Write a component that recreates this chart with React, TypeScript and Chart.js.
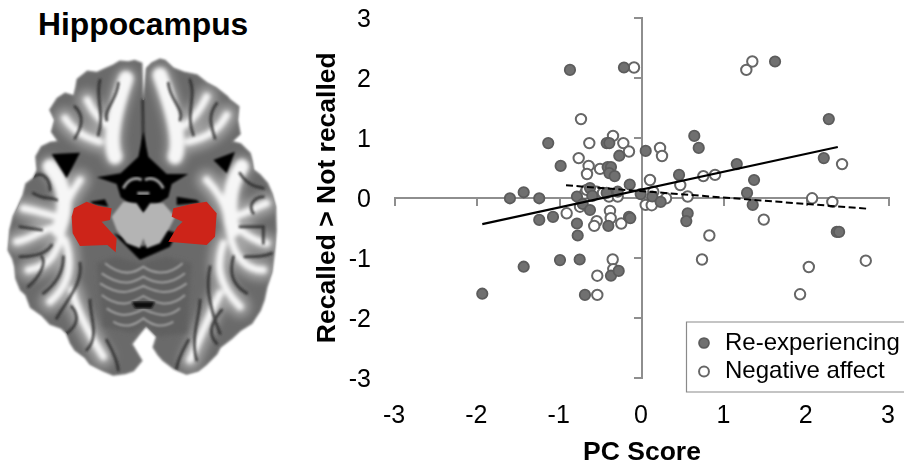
import React, { useEffect, useRef } from "react";
import { Chart, registerables } from "chart.js";

Chart.register(...registerables);

const reX = [-0.875,-0.219,-1.139,-0.988,-1.604,-1.437,-1.248,-0.429,-0.397,-0.276,0.045,-0.417,-0.377,-0.397,-0.332,-0.149,-0.632,-0.79,-0.604,-0.429,-0.295,-0.016,-0.72,-0.632,-1.248,-1.081,-0.79,-0.781,-0.409,-0.158,-0.142,-0.996,-0.757,-1.437,-0.377,-0.283,-1.94,-0.693,1.616,2.269,0.635,0.689,1.151,2.208,0.45,1.361,1.276,1.345,0.125,0.227,0.555,0.538,2.366,2.394];
const reY = [2.13,2.17,0.91,0.53,-0.01,0.09,-0.01,0.91,0.91,0.7,0.78,0.51,0.51,0.41,0.36,0.22,0.16,0.02,0.03,0.08,0.1,0.06,-0.105,-0.205,-0.37,-0.32,-0.43,-0.63,-0.47,-0.32,-0.34,-1.04,-1.03,-1.15,-1.3,-1.22,-1.6,-1.62,2.27,1.31,1.03,0.83,0.56,0.66,0.38,0.295,0.08,-0.12,0.02,-0.07,-0.26,-0.39,-0.57,-0.57];
const naX = [-0.097,-0.741,-0.64,-0.352,-0.227,-0.158,-0.769,-0.648,-0.668,-0.51,0.097,-0.693,-0.672,-0.55,-0.401,-0.295,-0.474,-0.753,-0.915,-0.389,-0.38,-0.55,-0.58,-0.252,-0.356,-0.349,-0.543,-0.543,1.34,1.267,0.219,0.243,0.745,0.887,0.465,0.555,0.137,0.292,0.045,0.118,2.066,2.312,2.43,1.479,0.818,0.729,2.026,2.718,1.92];
const naY = [2.17,1.31,0.91,1.03,0.91,0.77,0.66,0.53,0.395,0.48,0.295,0.07,0.13,0.1,0.02,0.02,0.08,-0.15,-0.26,-0.22,-0.34,-0.39,-0.47,-0.43,-1.03,-1.19,-1.3,-1.62,2.27,2.13,0.83,0.695,0.36,0.38,0.21,0.02,0.1,-0.01,-0.12,-0.125,-0.01,-0.07,0.56,-0.365,-0.63,-1.03,-1.155,-1.05,-1.61];
const fitReX = [-1.94, 2.378];
const fitReY = [-0.44, 0.845];
const fitNaX = [-0.923, 2.73];
const fitNaY = [0.207, -0.183];
const seriesNames = ["Re-experiencing", "Negative affect"];
const title = "Hippocampus";
const xTitle = "PC Score";
const yTitle = "Recalled > Not recalled";

const toPoints = (xs: number[], ys: number[]) => xs.map((x, i) => ({ x, y: ys[i] }));

const FONT = "'Liberation Sans', Arial, sans-serif";
const AXIS = "#8e8e8e";

const zeroPadding = (s: any) => {
  s.paddingTop = 0;
  s.paddingBottom = 0;
  s.paddingLeft = 0;
  s.paddingRight = 0;
};

const placeLegend = {
  id: "placeLegend",
  afterLayout(chart: any) {
    const l = chart.legend;
    if (!l) return;
    l.left = 690.5;
    l.right = 904;
    l.top = 326.5;
    l.bottom = 440;
  },
  beforeDraw(chart: any) {
    const c = chart.ctx;
    c.save();
    c.strokeStyle = "#8a8a8a";
    c.lineWidth = 1.2;
    c.fillStyle = "#fff";
    c.beginPath();
    c.rect(686.5, 322, 230, 70);
    c.fill();
    c.stroke();
    c.restore();
  },
};

function Brain() {
  const outline = "425,190 405,182 385,186 360,184 340,196 312,208 290,218 262,214 232,238 228,262 222,288 195,280 172,295 150,330 165,360 155,395 176,425 150,428 125,440 108,470 112,510 100,535 78,552 70,585 55,620 40,650 30,690 28,720 25,750 38,775 45,800 48,835 62,870 78,885 92,922 125,945 150,972 185,985 200,1000 212,1030 225,1050 255,1072 270,1092 310,1112 340,1125 375,1120 400,1112 425,1082 395,1032 420,1000 438,978 470,1010 460,1042 475,1065 490,1082 525,1108 560,1122 595,1112 620,1092 650,1062 660,1042 695,1015 720,992 755,970 780,932 792,900 800,862 815,815 822,760 828,690 826,620 815,580 802,550 780,525 760,510 755,480 750,460 722,432 695,425 720,402 712,360 716,320 690,300 682,290 650,265 622,250 590,225 555,218 520,205 495,182 480,178 455,190 440,205 432,300 428,300";
  const white = [
    "M345,470 C325,420 345,330 378,235",
    "M340,390 C310,370 280,340 262,300",
    "M300,425 C265,415 225,400 195,355",
    "M525,470 C545,420 515,320 480,225",
    "M530,390 C570,370 595,340 620,290",
    "M565,425 C610,415 650,400 680,345",
    "M150,500 C195,550 205,620 175,690",
    "M170,650 C130,640 100,630 70,625",
    "M170,680 C120,690 90,720 50,725",
    "M185,700 C170,770 140,800 85,810",
    "M195,720 C215,780 215,850 150,905",
    "M215,870 C230,930 260,990 310,1070",
    "M240,540 C220,570 200,600 190,640",
    "M725,500 C690,550 680,620 700,690",
    "M700,650 C740,640 770,620 800,610",
    "M700,680 C720,680 740,720 800,730",
    "M690,700 C700,770 740,810 790,810",
    "M670,730 C650,790 650,850 720,920",
    "M660,880 C630,940 610,990 570,1080",
    "M620,540 C650,570 670,600 680,640",
  ];
  const dark = [
    "M300,240 C285,290 315,340 295,405", "M225,320 C255,350 245,380 225,415", "M355,250 C350,300 310,330 320,360",
    "M570,240 C590,290 555,340 580,405", "M650,310 C620,350 635,380 645,415", "M505,250 C510,300 555,330 540,360",
    "M60,680 L125,690", "M100,580 C130,600 150,590 170,600", "M60,770 C110,770 140,760 155,735", "M125,770 C140,790 120,830 85,860",
    "M130,880 C170,850 190,810 190,770", "M170,955 C200,900 250,850 240,790", "M260,1050 C300,1010 270,950 270,900",
    "M720,520 C740,550 760,560 790,565", "M720,680 L790,680 L790,730", "M735,770 C770,770 790,770 815,760",
    "M740,880 C690,850 690,810 700,770", "M660,1000 C620,900 620,850 630,800", "M590,1080 C570,1010 600,950 600,900",
    "M428,300 L430,430", "M100,530 C130,510 150,540 150,570", "M760,640 C740,610 770,590 790,590",
    "M200,1000 C230,980 240,950 215,920", "M650,1030 C620,1000 640,960 665,930", "M355,1110 C350,1070 330,1040 320,1020", "M530,1105 C535,1070 555,1040 565,1020",
  ];
  const arcs = [
    "M315,790 C370,835 410,815 430,800 C450,815 500,835 548,790",
    "M305,820 C370,865 405,845 430,830 C455,845 500,865 555,820",
    "M300,850 C370,895 400,870 430,858 C460,870 500,895 560,850",
    "M305,885 C365,930 400,905 430,888 C460,905 505,930 555,885",
    "M320,925 C370,960 400,940 430,928 C460,940 500,960 540,925",
    "M340,965 C380,990 410,970 430,955 C450,970 480,990 520,965",
  ];
  return (
    <svg width={290} height={380} viewBox="0 0 870 1140" style={{ position: "absolute", left: 0, top: 0 }}>
      <defs>
        <filter id="b1"><feGaussianBlur stdDeviation="2.5" /></filter>
        <filter id="b2"><feGaussianBlur stdDeviation="7" /></filter>
        <filter id="b3"><feGaussianBlur stdDeviation="14" /></filter>
        <clipPath id="clip"><polygon points={outline} /></clipPath>
      </defs>
      <polygon points={outline} fill="#6a6a6a" stroke="#777" strokeWidth={5} strokeLinejoin="round" filter="url(#b1)" />
      <g clipPath="url(#clip)">
        <g fill="none" stroke="#a6a6a6" strokeLinecap="round" filter="url(#b3)">
          {white.map((d, i) => <path key={i} d={d} strokeWidth={62} />)}
        </g>
        <g fill="none" stroke="#f6f6f6" strokeLinecap="round" filter="url(#b2)">
          {white.map((d, i) => <path key={i} d={d} strokeWidth={i === 0 || i === 3 || i === 6 || i === 13 ? 44 : 22} />)}
        </g>
        <g fill="none" stroke="#262626" strokeLinecap="round" filter="url(#b1)" opacity={0.75}>
          {dark.map((d, i) => <path key={i} d={d} strokeWidth={9} />)}
        </g>
        <g fill="#060606" filter="url(#b1)">
          <polygon points="155,462 240,458 200,535" />
          <polygon points="640,480 705,455 680,520" />
          <polygon points="430,395 445,470 500,522 565,522 515,552 505,592 430,640 362,592 350,552 290,532 362,520 415,470" />
          <polygon points="340,700 420,780 510,740 530,700 500,690 430,740 370,710" />
          <polygon points="270,605 315,598 325,620 280,612" />
          <polygon points="530,590 590,600 600,608 530,615" />
        </g>
        <g fill="none" stroke="#a0a0a0" strokeWidth={9} filter="url(#b1)">
          <path d="M370,565 C385,535 410,530 425,540" />
          <path d="M490,565 C475,535 450,530 435,540" />
          <path d="M412,580 L448,580" />
        </g>
        <polygon points="290,790 345,770 420,790 500,770 575,790 560,1000 470,1010 438,975 400,1000 310,980" fill="#606060" filter="url(#b2)" />
        <g fill="none" stroke="#a0a0a0" filter="url(#b1)">
          {arcs.map((d, i) => <path key={i} d={d} strokeWidth={6} />)}
        </g>
        <polygon points="395,905 465,905 455,925 405,925" fill="#111" filter="url(#b1)" />
        <polygon points="335,650 370,605 410,610 430,640 450,610 490,610 525,650 510,680 480,730 440,745 430,715 420,745 380,730 350,690" fill="#b4b4b4" filter="url(#b1)" />
        <g fill="#cd2419">
          <polygon points="215,650 222,625 260,605 295,618 335,625 330,660 305,665 350,715 347,757 322,735 240,738 218,700" />
          <polygon points="520,625 575,612 620,605 650,640 645,710 620,735 505,725 532,680 548,665 515,650" />
        </g>
      </g>
    </svg>
  );
}

export default function App() {
  const ref = useRef<HTMLCanvasElement>(null);

  useEffect(() => {
    const tickFont = { family: FONT, size: 25 };
    const titleFont = { family: FONT, size: 26.5, weight: "bold" as const, lineHeight: 1 };
    const centerAxis = {
      type: "linear" as const,
      min: -3,
      max: 3,
      afterFit: zeroPadding,
      ticks: { display: false, stepSize: 1 },
      border: { display: true, color: AXIS, width: 2 },
      grid: { display: true, drawOnChartArea: false, drawTicks: true, tickLength: 7, color: AXIS, lineWidth: 2 },
    };
    const chart = new Chart(ref.current!, {
      type: "scatter",
      data: {
        datasets: [
          {
            label: seriesNames[0],
            data: toPoints(reX, reY),
            order: 1,
            pointRadius: 5.2,
            borderWidth: 1.8,
            backgroundColor: "#707070",
            borderColor: "#5c5c5c",
          },
          {
            label: seriesNames[1],
            data: toPoints(naX, naY),
            order: 2,
            pointRadius: 5.2,
            borderWidth: 2,
            backgroundColor: "#ffffff",
            borderColor: "#666666",
          },
          {
            type: "line",
            label: "fit re",
            data: toPoints(fitReX, fitReY),
            order: 0,
            showLine: true,
            pointRadius: 0,
            borderWidth: 2.2,
            borderColor: "#000",
          },
          {
            type: "line",
            label: "fit na",
            data: toPoints(fitNaX, fitNaY),
            order: 0,
            showLine: true,
            pointRadius: 0,
            borderWidth: 2,
            borderDash: [7, 3.5],
            borderColor: "#000",
          },
        ] as any,
      },
      options: {
        responsive: false,
        animation: false,
        layout: { autoPadding: false, padding: { left: 314, right: 15, top: 17.7, bottom: 0 } },
        plugins: {
          tooltip: { enabled: false },
          title: { display: false },
          legend: {
            position: "chartArea" as any,
            align: "start",
            labels: {
              usePointStyle: true,
              boxWidth: 18,
              boxHeight: 7,
              padding: 4.5,
              color: "#000",
              font: { family: FONT, size: 24 },
              filter: (it: any) => seriesNames.includes(it.text),
            },
          },
        },
        scales: {
          x: {
            type: "linear",
            position: "bottom",
            min: -3,
            max: 3,
            afterFit: (s: any) => { s.height = 88.3; zeroPadding(s); },
            grid: { display: false },
            border: { display: false },
            ticks: { stepSize: 1, color: "#000", font: tickFont, padding: 15, maxRotation: 0, includeBounds: true, labelOffset: -1 },
            title: { display: true, text: xTitle, color: "#000", font: titleFont, padding: { top: 0, bottom: 0 } },
          },
          y: {
            type: "linear",
            position: "left",
            min: -3,
            max: 3,
            afterFit: (s: any) => { s.width = 81; zeroPadding(s); },
            grid: { display: false },
            border: { display: false },
            ticks: { stepSize: 1, color: "#000", font: tickFont, padding: 16, labelOffset: 2 },
            title: { display: true, text: yTitle, color: "#000", font: titleFont, padding: 0 },
          },
          x0: { ...centerAxis, axis: "x", position: { y: 0 } },
          y0: { ...centerAxis, axis: "y", position: { x: 0 } },
        } as any,
      },
      plugins: [placeLegend],
    });
    return () => chart.destroy();
  }, []);

  return (
    <div style={{ position: "fixed", left: 0, top: 0, width: 904, height: 466, background: "#fff", overflow: "hidden" }}>
      <Brain />
      <div style={{ position: "absolute", left: 38, top: 6, fontFamily: FONT, fontWeight: "bold", fontSize: 31.8, lineHeight: "36px", color: "#000" }}>
        {title}
      </div>
      <canvas ref={ref} width={904} height={466} style={{ position: "absolute", left: 0, top: 0, pointerEvents: "none" }} />
    </div>
  );
}
